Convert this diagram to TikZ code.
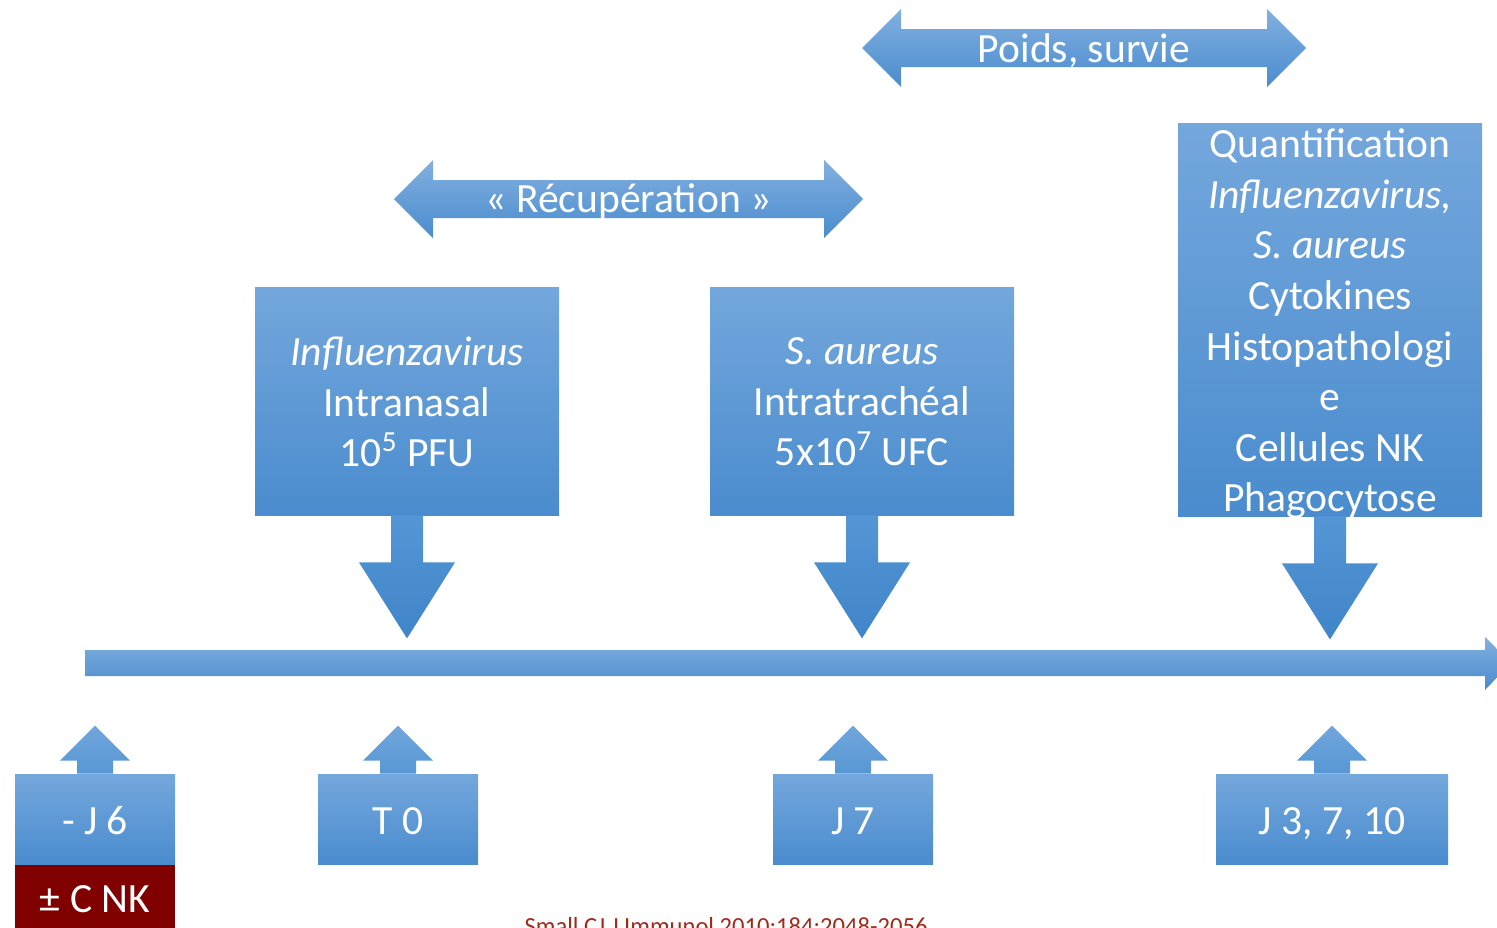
\documentclass[tikz,border=0pt]{standalone}
\usepackage{fontspec}
\setmainfont{Carlito}
\usetikzlibrary{calc}

\definecolor{bxtop}{RGB}{116,167,220}
\definecolor{bxbot}{RGB}{74,140,206}
\definecolor{artop}{RGB}{84,150,213}
\definecolor{arbot}{RGB}{64,133,201}
\definecolor{uptop}{RGB}{114,166,219}
\definecolor{upbot}{RGB}{86,151,212}
\definecolor{nkred}{RGB}{128,0,0}
\definecolor{citered}{RGB}{162,42,28}

\tikzset{
  blockbox/.style={inner sep=0pt, top color=bxtop, bottom color=bxbot, draw=none},
  lbl/.style={text=white, font=\fontsize{20.8}{25.3}\selectfont, align=center, inner sep=0pt},
  arrowfill/.style={top color=artop, bottom color=arbot, draw=none},
  upfill/.style={top color=uptop, bottom color=upbot, draw=none},
  bandfill/.style={top color=bxtop!90!white, bottom color=bxbot, draw=none},
}

% block arrow pointing down from the bottom side of a box
\newcommand\downblock[1]{%
  \path[arrowfill] ($(#1.south)+(-16,0)$) -- ($(#1.south)+(-16,47)$) -- ($(#1.south)+(-48,47)$)
    -- ($(#1.south)+(0,123)$) -- ($(#1.south)+(48,47)$) -- ($(#1.south)+(16,47)$)
    -- ($(#1.south)+(16,0)$) -- cycle;}
% small block arrow pointing up from the top side of a box
\newcommand\upblock[1]{%
  \path[upfill] ($(#1.north)+(-18,0)$) -- ($(#1.north)+(-18,-13)$) -- ($(#1.north)+(-35,-13)$)
    -- ($(#1.north)+(0,-48)$) -- ($(#1.north)+(35,-13)$) -- ($(#1.north)+(18,-13)$)
    -- ($(#1.north)+(18,0)$) -- cycle;}
% horizontal double-headed band: #1 = name, #2 = left tip x, #3 = right tip x, #4 = centre y, #5 = text
\newcommand\doubleband[5]{%
  \path[bandfill] (#2,#4) -- ({#2+39},{#4-39}) -- ({#2+39},{#4-19}) -- ({#3-39},{#4-19})
    -- ({#3-39},{#4-39}) -- (#3,#4) -- ({#3-39},{#4+39}) -- ({#3-39},{#4+19})
    -- ({#2+39},{#4+19}) -- ({#2+39},{#4+39}) -- cycle;
  \node[lbl] (#1) at ({(#2+#3)/2},{#4+2.5}) {#5};}

\begin{document}
\begin{tikzpicture}[x=0.5pt,y=-0.5pt]
\useasboundingbox (0,0) rectangle (1497,927);

% timeline
\path[bandfill] (85,650) -- (1485,650) -- (1485,637) -- (1511,663) -- (1485,690)
  -- (1485,676) -- (85,676) -- cycle;

% upper double arrows
\doubleband{poids}{862}{1306}{48}{Poids, survie}
\doubleband{recup}{394}{863}{199}{« Récupération »}

% inoculation and readout boxes
\node[blockbox, minimum width=152pt, minimum height=114pt] (b1) at (407,401) {};
\node[blockbox, minimum width=152pt, minimum height=114pt] (b2) at (862,401) {};
\node[blockbox, minimum width=152pt, minimum height=196.5pt] (b3) at (1330,319.5) {};

\node[lbl] (t1) at (407,402) {\textit{Influenzavirus}\\Intranasal\\10\textsuperscript{5} PFU};
\node[lbl] (t2) at (862,402) {\textit{S. aureus}\\Intratrachéal\\5x10\textsuperscript{7} UFC};
\node[lbl] (t3) at (1330,324) {Quantification\\\textit{Influenzavirus,}\\\textit{S. aureus}\\Cytokines\\Histopathologi\\e\\Cellules NK\\Phagocytose};

\downblock{b1}
\downblock{b2}
\downblock{b3}

% time-point boxes
\node[blockbox, minimum width=80pt, minimum height=45pt] (j6) at (95,819) {};
\node[blockbox, minimum width=80pt, minimum height=45pt] (t0) at (398,819) {};
\node[blockbox, minimum width=80pt, minimum height=45pt] (j7) at (853,819) {};
\node[blockbox, minimum width=116pt, minimum height=45pt] (jx) at (1332,819) {};
\node[inner sep=0pt, fill=nkred, minimum width=80pt, minimum height=40pt, anchor=north] (nk) at (j6.south) {};

\upblock{j6}
\upblock{t0}
\upblock{j7}
\upblock{jx}

\node[lbl, anchor=base] (lj6) at (95,834) {- J 6};
\node[lbl, anchor=base] (lt0) at (398,834) {T 0};
\node[lbl, anchor=base] (lj7) at (853,834) {J 7};
\node[lbl, anchor=base] (ljx) at (1332,834) {J 3, 7, 10};
\node[lbl, anchor=base] (lnk) at (95,912) {± C NK};

% reference
\node[text=citered, font=\fontsize{12.3}{14}\selectfont, inner sep=0pt, anchor=base] (cite) at (726,934) {Small CJ J Immunol 2010;184:2048-2056};
\end{tikzpicture}
\end{document}
